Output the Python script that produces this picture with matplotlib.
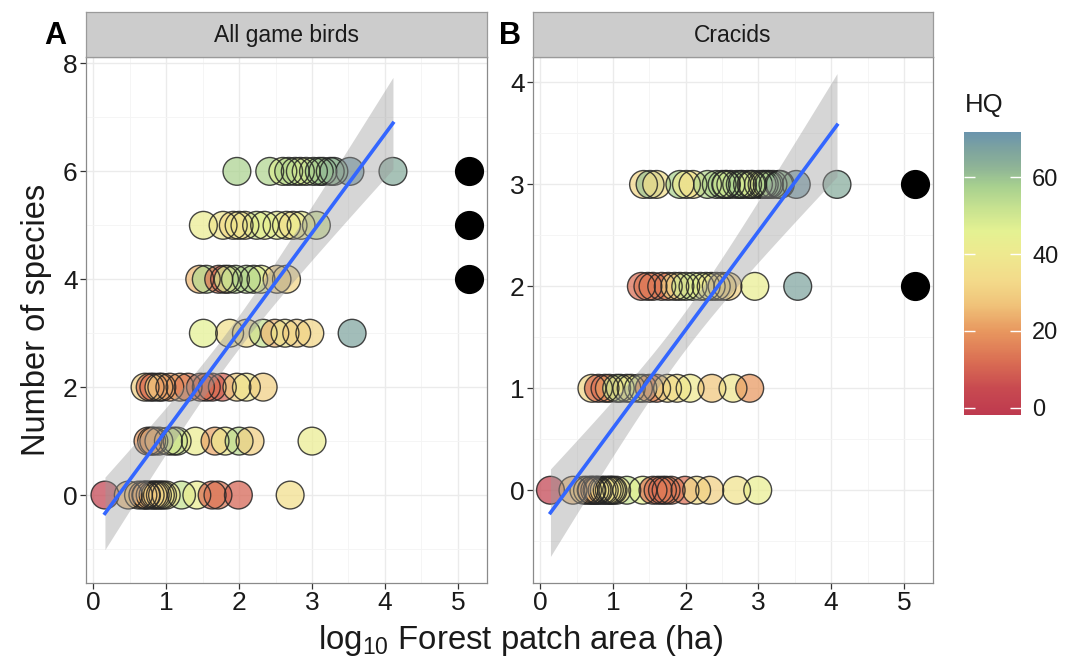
import numpy as np
import matplotlib
matplotlib.use("Agg")
import matplotlib.pyplot as plt
from matplotlib.colors import LinearSegmentedColormap, Normalize
from matplotlib.cm import ScalarMappable
from matplotlib.ticker import MultipleLocator

plt.rcParams['font.family'] = ['Liberation Sans', 'DejaVu Sans']
plt.rcParams['mathtext.fontset'] = 'custom'
plt.rcParams['mathtext.rm'] = 'Liberation Sans'
plt.rcParams['mathtext.it'] = 'Liberation Sans:italic'

# ---------------- data ----------------
# Panel A: all game birds (log10 patch area, number of species, habitat quality)
a_area = [0.16, 0.48, 0.73, 0.82, 0.92, 1.21, 1.42, 1.63, 1.71, 1.99, 2.70,
          0.62, 0.68, 0.78, 0.88, 0.95, 1.00, 0.72, 0.85,
          0.83, 1.03, 1.15, 1.40, 1.67, 1.81, 2.00, 2.15, 3.00,
          0.75, 0.90, 1.10, 0.80,
          0.71, 0.83, 0.94, 1.19, 1.47, 1.63, 1.77, 1.97, 2.10, 2.33,
          0.78, 0.90, 1.05, 1.30, 1.55,
          1.51, 1.87, 2.10, 2.33, 2.49, 2.63, 2.79, 2.97, 3.55,
          1.46, 1.55, 1.72, 1.80, 1.95, 2.20, 2.30, 2.52, 2.65,
          1.85, 2.10,
          1.51, 1.78, 1.92, 2.08, 2.24, 2.52, 2.65, 2.74, 3.06,
          2.00, 2.35, 2.85,
          1.97, 2.42, 2.60, 2.77, 2.84, 3.02, 3.15, 3.25, 3.52, 4.11,
          2.68, 2.92, 3.10, 3.30]
a_species = ([0] * 19 + [1] * 13 + [2] * 15 + [3] * 9 + [4] * 11 + [5] * 12 + [6] * 14)
a_hq = [2, 25, 24, 22, 35, 52, 42, 12, 14, 10, 35,
        28, 22, 25, 32, 35, 38, 24, 30,
        18, 32, 52, 42, 22, 40, 54, 30, 42,
        20, 35, 50, 22,
        30, 12, 14, 22, 13, 10, 10, 30, 38, 30,
        14, 30, 20, 15, 12,
        46, 36, 34, 52, 25, 38, 30, 32, 67,
        25, 55, 14, 12, 55, 55, 45, 30, 32,
        50, 55,
        42, 38, 33, 35, 50, 44, 40, 36, 50,
        38, 45, 42,
        57, 56, 48, 52, 47, 58, 60, 62, 70, 65,
        55, 50, 58, 62]

# Panel B: cracids
b_area = [0.14, 0.45, 0.71, 0.78, 0.98, 1.19, 1.41, 1.62, 1.73, 1.99, 2.15, 2.33, 2.70, 2.99,
          0.65, 0.75, 0.85, 0.92, 1.05, 1.55, 1.68, 1.80, 0.60, 0.70, 0.80, 0.88, 0.95, 1.00,
          0.71, 0.80, 0.89, 1.10, 1.19, 1.41, 1.60, 1.88, 2.06, 2.36, 2.65, 2.88,
          0.95, 1.05, 1.25, 1.35, 1.50, 1.75,
          1.39, 1.48, 1.67, 1.76, 1.92, 2.10, 2.28, 2.42, 2.58, 2.95, 3.54,
          1.55, 1.85, 2.00, 2.20, 2.35, 2.50,
          1.42, 1.51, 1.60, 1.92, 2.01, 2.10, 2.42, 2.56, 2.78, 2.92, 3.08, 3.20, 3.52, 4.08,
          2.30, 2.50, 2.62, 2.70, 2.85, 3.00, 3.12, 3.28, 2.55, 2.75, 2.90, 3.05, 3.15, 3.30]
b_species = [0] * 28 + [1] * 18 + [2] * 17 + [3] * 28
b_hq = [2, 25, 22, 20, 32, 52, 46, 13, 12, 12, 35, 30, 37, 43,
        26, 24, 30, 34, 36, 14, 12, 15, 28, 22, 25, 32, 35, 38,
        32, 12, 13, 53, 30, 48, 15, 35, 40, 28, 38, 20,
        20, 50, 40, 45, 18, 35,
        12, 14, 16, 15, 32, 52, 46, 35, 30, 43, 67,
        14, 30, 50, 45, 40, 32,
        32, 60, 35, 57, 40, 36, 57, 48, 55, 47, 48, 58, 70, 65,
        55, 56, 50, 58, 48, 50, 56, 60, 52, 57, 47, 45, 58, 62]

# continuous forest reference points (black)
ref_area = 5.15
ref_a_species = [4, 5, 6]
ref_b_species = [2, 3]

hq_min, hq_max = -1.9, 71.8
cbar_ticks = [0, 20, 40, 60]

# colour palette
pal_vals = [-1.9, 5, 12, 20, 27, 33, 40, 46, 52, 58, 63, 67, 71.8]
pal_cols = ['#BE3A4F', '#C84A50', '#DA6E53', '#E8985F', '#F0C47A', '#F3DA8A', '#EEE98F',
            '#E4F192', '#C7E290', '#A6CF8F', '#8DB297', '#7FA59E', '#6A94AD']

cmap = LinearSegmentedColormap.from_list(
    'hq', [((v - hq_min) / (hq_max - hq_min), c) for v, c in zip(pal_vals, pal_cols)])
norm = Normalize(hq_min, hq_max)


def lm_fit(x, y):
    x = np.asarray(x, float)
    y = np.asarray(y, float)
    X = np.column_stack([np.ones_like(x), x])
    beta = np.linalg.lstsq(X, y, rcond=None)[0]
    n = len(x)
    res = y - X @ beta
    s2 = res @ res / (n - 2)
    xs = np.linspace(x.min(), x.max(), 100)
    Xs = np.column_stack([np.ones_like(xs), xs])
    cov = np.linalg.inv(X.T @ X)
    se = np.sqrt(s2 * np.sum((Xs @ cov) * Xs, axis=1))
    yh = Xs @ beta
    return xs, yh, 1.99 * se


W, H = 1083, 664
fig = plt.figure(figsize=(W / 100, H / 100), dpi=100)

text_col = '#1A1A1A'


def make_panel(left, width, area, species, hq, ref_sp, ylim, ymajor, strip, letter, letter_x):
    ax = fig.add_axes([left / W, 81 / H, width / W, 526 / H])
    ax.set_xlim(-0.1, 5.4)
    ax.set_ylim(*ylim)
    ax.xaxis.set_major_locator(MultipleLocator(1))
    ax.xaxis.set_minor_locator(MultipleLocator(0.5))
    ax.yaxis.set_major_locator(MultipleLocator(ymajor))
    ax.yaxis.set_minor_locator(MultipleLocator(ymajor / 2))
    ax.grid(which='major', color='#EBEBEB', lw=1.0, zorder=0)
    ax.grid(which='minor', color='#F4F4F4', lw=0.6, zorder=0)
    ax.set_axisbelow(True)
    ax.tick_params(which='minor', length=0)
    ax.tick_params(which='major', length=4, width=0.9, color='#333333',
                   labelsize=19, labelcolor=text_col, pad=2)
    for s in ax.spines.values():
        s.set_color('#8A8A8A')
        s.set_linewidth(0.9)
    ax.scatter(area, species, c=hq, cmap=cmap, norm=norm, s=400, alpha=0.72,
               edgecolors='none', zorder=3)
    ax.scatter(area, species, s=400, facecolors='none', edgecolors='#262626',
               linewidths=1.0, alpha=0.85, zorder=3)
    ax.scatter([ref_area] * len(ref_sp), ref_sp, s=400, c='black', zorder=3)
    xs, yh, ci = lm_fit(area, species)
    ax.fill_between(xs, yh - ci, yh + ci, color='#999999', alpha=0.4, lw=0, zorder=4)
    ax.plot(xs, yh, color='#3366FF', lw=2.6, zorder=5)
    # strip
    st = fig.add_axes([left / W, 607 / H, width / W, 45 / H])
    st.set_facecolor('#CCCCCC')
    st.set_xticks([])
    st.set_yticks([])
    for s in st.spines.values():
        s.set_color('#9A9A9A')
        s.set_linewidth(0.9)
    st.text(0.5, 0.48, strip, ha='center', va='center', fontsize=16.5, color=text_col,
            transform=st.transAxes)
    fig.text(letter_x / W, 628 / H, letter, fontsize=22, fontweight='bold',
             ha='center', va='center', color='black')
    return ax


axA = make_panel(86, 401, a_area, a_species, a_hq, ref_a_species, (-1.63, 8.12), 2,
                 'All game birds', 'A', 55)
axB = make_panel(533, 400, b_area, b_species, b_hq, ref_b_species, (-0.91, 4.25), 1,
                 'Cracids', 'B', 510)

axA.set_ylabel('Number of species', fontsize=23.5, color=text_col, labelpad=8)
fig.text(520 / W, 24 / H, 'log$_{10}$ Forest patch area (ha)', fontsize=23.7,
         ha='center', va='center', color=text_col)

# colour bar
cax = fig.add_axes([964 / W, (H - 415) / H, 57 / W, 283 / H])
cb = fig.colorbar(ScalarMappable(norm=norm, cmap=cmap), cax=cax, ticks=cbar_ticks)
cb.outline.set_visible(False)
cax.tick_params(direction='in', length=8, width=1.0, color='white', left=True,
                right=True, labelsize=17, labelcolor=text_col, pad=8)
fig.text(965 / W, (H - 105) / H, 'HQ', fontsize=18.5, ha='left', va='center',
         color=text_col)

fig.savefig('out.png', dpi=100)
